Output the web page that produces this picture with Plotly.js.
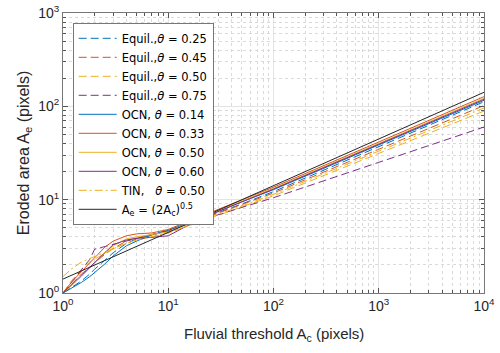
<!DOCTYPE html>
<html>
<head>
<meta charset="utf-8">
<script src="https://cdn.plot.ly/plotly-3.0.1.min.js"></script>
<style>
  html, body { margin: 0; padding: 0; background: #fff; }
  #plot { width: 500px; height: 353px; }
</style>
</head>
<body>
<div id="plot"></div>
<script>
// fluvial threshold values shared by the measured curves
var acGrid = [1, 1.2, 1.5, 1.8, 2, 2.5, 3, 4, 5, 7, 10, 20, 50, 100, 1000, 10000];

// equilibrium landscapes
var equil25 = [1, 1.15, 1.35, 1.6, 1.8, 2.25, 2.7, 3.4, 3.8, 4.2, 4.6, 6.2, 9.0, 12.2, 37.0, 112];
var equil45 = [1, 1.25, 1.6, 1.9, 2.1, 2.6, 3.0, 3.6, 3.9, 4.25, 4.6, 6.1, 8.8, 11.8, 34.7, 102];
var equil50 = [1, 1.35, 1.8, 2.15, 2.3, 2.65, 3.0, 3.4, 3.7, 4.0, 4.4, 5.8, 8.3, 11.0, 31.3, 89];
var equil75 = [1, 1.3, 1.75, 2.3, 2.95, 3.15, 3.35, 3.65, 3.9, 4.3, 4.7, 6.0, 8.2, 10.5, 25.1, 60];

// optimal channel networks
var ocn14 = [1, 1.12, 1.3, 1.5, 1.65, 2.05, 2.5, 3.2, 3.6, 4.2, 4.7, 6.3, 9.5, 12.8, 38.6, 116];
var ocn33 = [1, 1.3, 1.7, 2.1, 2.4, 3.1, 3.6, 4.1, 4.3, 4.4, 4.8, 6.6, 10.0, 13.6, 41.5, 127];
var ocn50 = [1, 1.2, 1.5, 1.85, 2.1, 2.7, 3.2, 3.8, 4.0, 4.2, 4.5, 6.4, 9.7, 13.2, 40.1, 122];
var ocn60 = [1, 1.22, 1.55, 1.9, 2.15, 2.75, 3.3, 3.7, 3.85, 3.95, 4.1, 6.2, 9.5, 13.0, 39.3, 119];

// TIN model
var tin50 = [1.5, 1.8, 2.15, 2.35, 2.45, 2.75, 3.0, 3.4, 3.7, 4.0, 4.4, 5.9, 8.6, 11.4, 33.1, 96];

// reference line Ae = (2Ac)^0.5
var refAc = [1, 10000];
var refAe = [1.41, 141.4];

var xTickVals = [1, 10, 100, 1000, 10000];
var xTickText = ['10<sup>0</sup>', '10<sup>1</sup>', '10<sup>2</sup>', '10<sup>3</sup>', '10<sup>4</sup>'];
var yTickVals = [1, 10, 100, 1000];
var yTickText = ['10<sup>0</sup>', '10<sup>1</sup>', '10<sup>2</sup>', '10<sup>3</sup>'];

var blue = '#0072BD', orange = '#D95319', yellow = '#EDB120', purple = '#7E2F8E';
var dashed = '8px,4px';
var dashDot = '8px,3px,2px,3px';

function minorTicks(maxExp) {
    var vals = [];
    for (var e = 0; e < maxExp; e++) {
        for (var d = 2; d <= 9; d++) vals.push(d * Math.pow(10, e));
    }
    return vals;
}

function trace(y, name, color, dash, x) {
    return {
        x: x || acGrid,
        y: y,
        name: name,
        mode: 'lines',
        type: 'scatter',
        line: { color: color, width: 1, dash: dash }
    };
}

var th = '<i>θ</i>';
var data = [
    trace(equil25, 'Equil.,' + th + ' = 0.25', blue, dashed),
    trace(equil45, 'Equil.,' + th + ' = 0.45', orange, dashed),
    trace(equil50, 'Equil.,' + th + ' = 0.50', yellow, dashed),
    trace(equil75, 'Equil.,' + th + ' = 0.75', purple, dashed),
    trace(ocn14, 'OCN, ' + th + ' = 0.14', blue, 'solid'),
    trace(ocn33, 'OCN, ' + th + ' = 0.33', orange, 'solid'),
    trace(ocn50, 'OCN, ' + th + ' = 0.50', yellow, 'solid'),
    trace(ocn60, 'OCN, ' + th + ' = 0.60', purple, 'solid'),
    trace(tin50, 'TIN,&nbsp;&nbsp;&nbsp;' + th + ' = 0.50', yellow, dashDot),
    trace(refAe, 'A<sub>e</sub> = (2A<sub>c</sub>)<sup>0.5</sup>', '#262626', 'solid', refAc)
];

var axisStyle = {
    type: 'log',
    tickmode: 'array',
    ticks: 'inside',
    ticklen: 5,
    tickcolor: '#555',
    showline: true,
    linecolor: '#777',
    linewidth: 1,
    mirror: 'ticks',
    showgrid: true,
    gridcolor: '#e4e4e4',
    zeroline: false,
    tickfont: { family: 'Liberation Sans, Arial, sans-serif', size: 14, color: '#262626' }
};

var layout = {
    width: 500,
    height: 353,
    margin: { l: 63, r: 16, t: 13, b: 60 },
    paper_bgcolor: '#fff',
    plot_bgcolor: '#fff',
    font: { family: 'Liberation Sans, Arial, sans-serif', color: '#262626' },
    showlegend: true,
    xaxis: Object.assign({}, axisStyle, {
        range: [0, 4],
        tickvals: xTickVals,
        ticktext: xTickText,
        minor: { tickmode: 'array', tickvals: minorTicks(4), ticks: 'inside', ticklen: 3, tickcolor: '#555',
                 showgrid: true, gridcolor: '#dadada', griddash: 'dot' }
    }),
    yaxis: Object.assign({}, axisStyle, {
        range: [0, 3],
        tickvals: yTickVals,
        ticktext: yTickText,
        minor: { tickmode: 'array', tickvals: minorTicks(3), ticks: 'inside', ticklen: 3, tickcolor: '#555',
                 showgrid: true, gridcolor: '#dadada', griddash: 'dot' },
        title: { text: 'Eroded area A<sub>e</sub> (pixels)', font: { size: 16 }, standoff: 4 }
    }),
    annotations: [{
        text: 'Fluvial threshold A<sub>c</sub> (pixels)',
        xref: 'paper', yref: 'paper', x: 0.5, y: 0,
        xanchor: 'center', yanchor: 'top', yshift: -30,
        showarrow: false,
        font: { size: 15, color: '#262626' }
    }],
    legend: {
        x: 0.023, y: 0.965, xanchor: 'left', yanchor: 'top',
        bgcolor: '#fff',
        bordercolor: '#777',
        borderwidth: 1,
        itemwidth: 38,
        font: { family: 'DejaVu Sans, sans-serif', size: 11.5, color: '#000' },
        tracegroupgap: 0
    }
};

Plotly.newPlot('plot', data, layout, { displayModeBar: false, staticPlot: true });
</script>
</body>
</html>
